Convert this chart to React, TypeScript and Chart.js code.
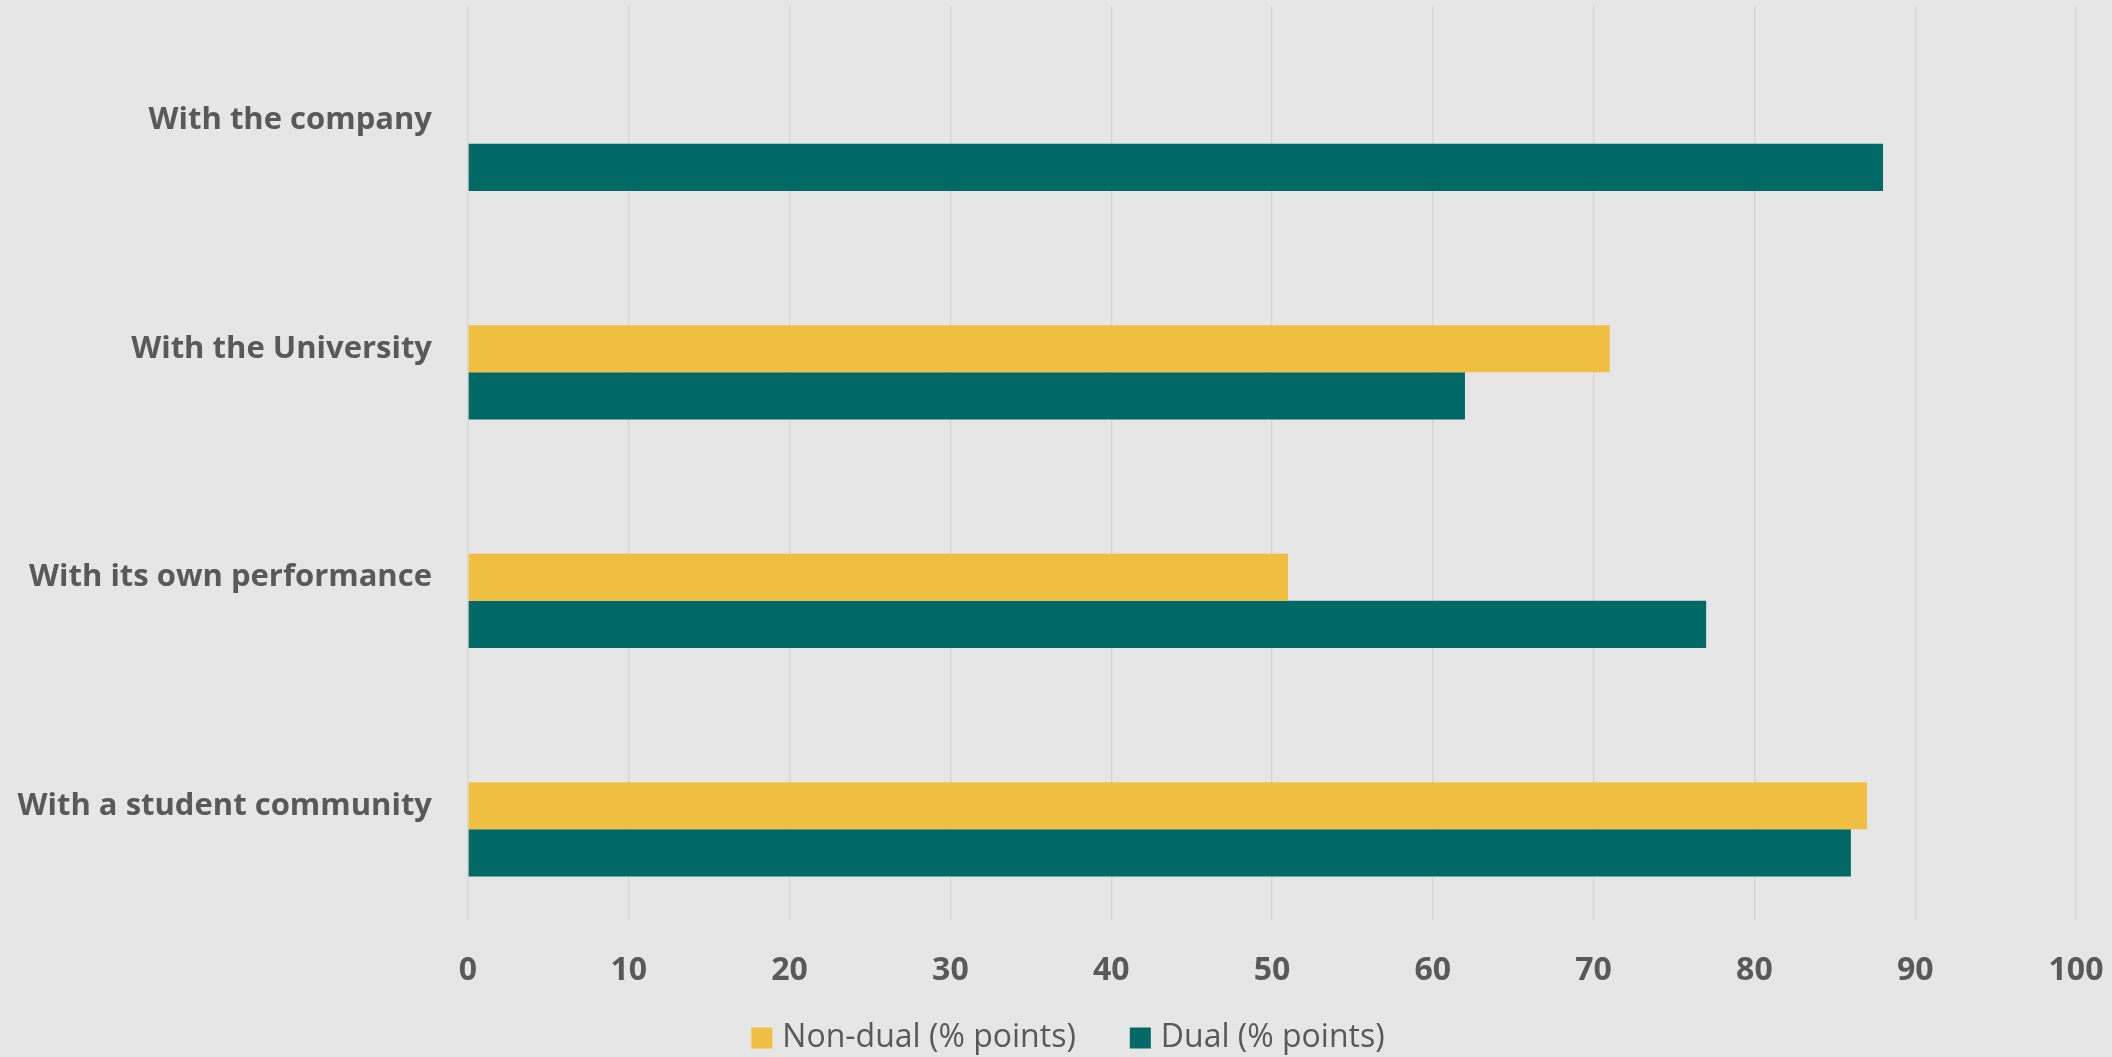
import React, { useEffect, useRef } from "react";
import { Chart, registerables } from "chart.js";

Chart.register(...registerables);

const categories = [
  "With the company",
  "With the University",
  "With its own performance",
  "With a student community",
];
const spacerValues: (number | null)[] = [null, null, null, null];
const nonDualValues: (number | null)[] = [null, 71, 51, 87];
const dualValues: (number | null)[] = [88, 62, 77, 86];
const seriesLabels = ["Non-dual (% points)", "Dual (% points)"];
const seriesColors = ["#F0BE41", "#006865"];
const axisMin = 0;
const axisMax = 100;
const axisStep = 10;

const TEXT = "#595959";
const BG = "#E6E6E6";

const legendPlugin = {
  id: "bottomLegend",
  afterDraw(chart: any) {
    const ctx = chart.ctx as CanvasRenderingContext2D;
    const items = chart.data.datasets.filter((d: any) => d.label);
    ctx.save();
    ctx.font = '400 32px "Open Sans"';
    const box = 21;
    const gap = 10;
    const spacing = 54;
    const widths = items.map((d: any) => ctx.measureText(d.label).width);
    const total =
      widths.reduce((a: number, w: number) => a + box + gap + w, 0) +
      spacing * (items.length - 1);
    let x = chart.width / 2 + 12 - total / 2;
    const cy = chart.height - 19;
    items.forEach((d: any, i: number) => {
      ctx.fillStyle = d.backgroundColor;
      ctx.fillRect(x, cy - box / 2, box, box);
      ctx.fillStyle = TEXT;
      ctx.textBaseline = "middle";
      ctx.textAlign = "left";
      ctx.fillText(d.label, x + box + gap, cy);
      x += box + gap + widths[i] + spacing;
    });
    ctx.restore();
  },
};

export default function App() {
  const canvasRef = useRef<HTMLCanvasElement | null>(null);

  useEffect(() => {
    document.body.style.margin = "0";
    document.body.style.background = BG;
    const canvas = canvasRef.current;
    if (!canvas) return;
    const chart = new Chart(canvas, {
      type: "bar",
      data: {
        labels: categories,
        datasets: [
          {
            label: "",
            data: spacerValues,
            backgroundColor: "rgba(0,0,0,0)",
          },
          {
            label: seriesLabels[0],
            data: nonDualValues,
            backgroundColor: seriesColors[0],
          },
          {
            label: seriesLabels[1],
            data: dualValues,
            backgroundColor: seriesColors[1],
          },
        ],
      },
      options: {
        animation: false,
        responsive: false,
        maintainAspectRatio: false,
        indexAxis: "y",
        datasets: {
          bar: {
            categoryPercentage: 0.62,
            barPercentage: 1.0,
          },
        },
        layout: { padding: { top: 6, right: 36, left: 0, bottom: 0 } },
        plugins: {
          legend: { display: false },
          tooltip: { enabled: false },
        },
        scales: {
          x: {
            min: axisMin,
            max: axisMax,
            ticks: {
              stepSize: axisStep,
              color: TEXT,
              font: { family: "Open Sans", size: 32, weight: "bold" },
              padding: 32,
            },
            grid: { color: "#D5D5D5", lineWidth: 1.3, drawTicks: false },
            border: { display: false },
            afterFit: (s: any) => {
              s.height = 137;
              s.paddingLeft = 0;
              s.paddingRight = 0;
            },
          },
          y: {
            ticks: {
              color: TEXT,
              font: { family: "Open Sans", size: 31, weight: "bold" },
              padding: 36,
            },
            grid: { display: false, drawTicks: false },
            border: { display: false },
            afterFit: (s: any) => {
              s.width = 468;
              s.paddingTop = 0;
              s.paddingBottom = 0;
            },
          },
        },
      } as any,
      plugins: [legendPlugin],
    });
    return () => chart.destroy();
  }, []);

  return (
    <div
      style={{
        position: "absolute",
        left: 0,
        top: 0,
        width: 2112,
        height: 1057,
        background: BG,
      }}
    >
      <canvas ref={canvasRef} width={2112} height={1057} />
    </div>
  );
}
